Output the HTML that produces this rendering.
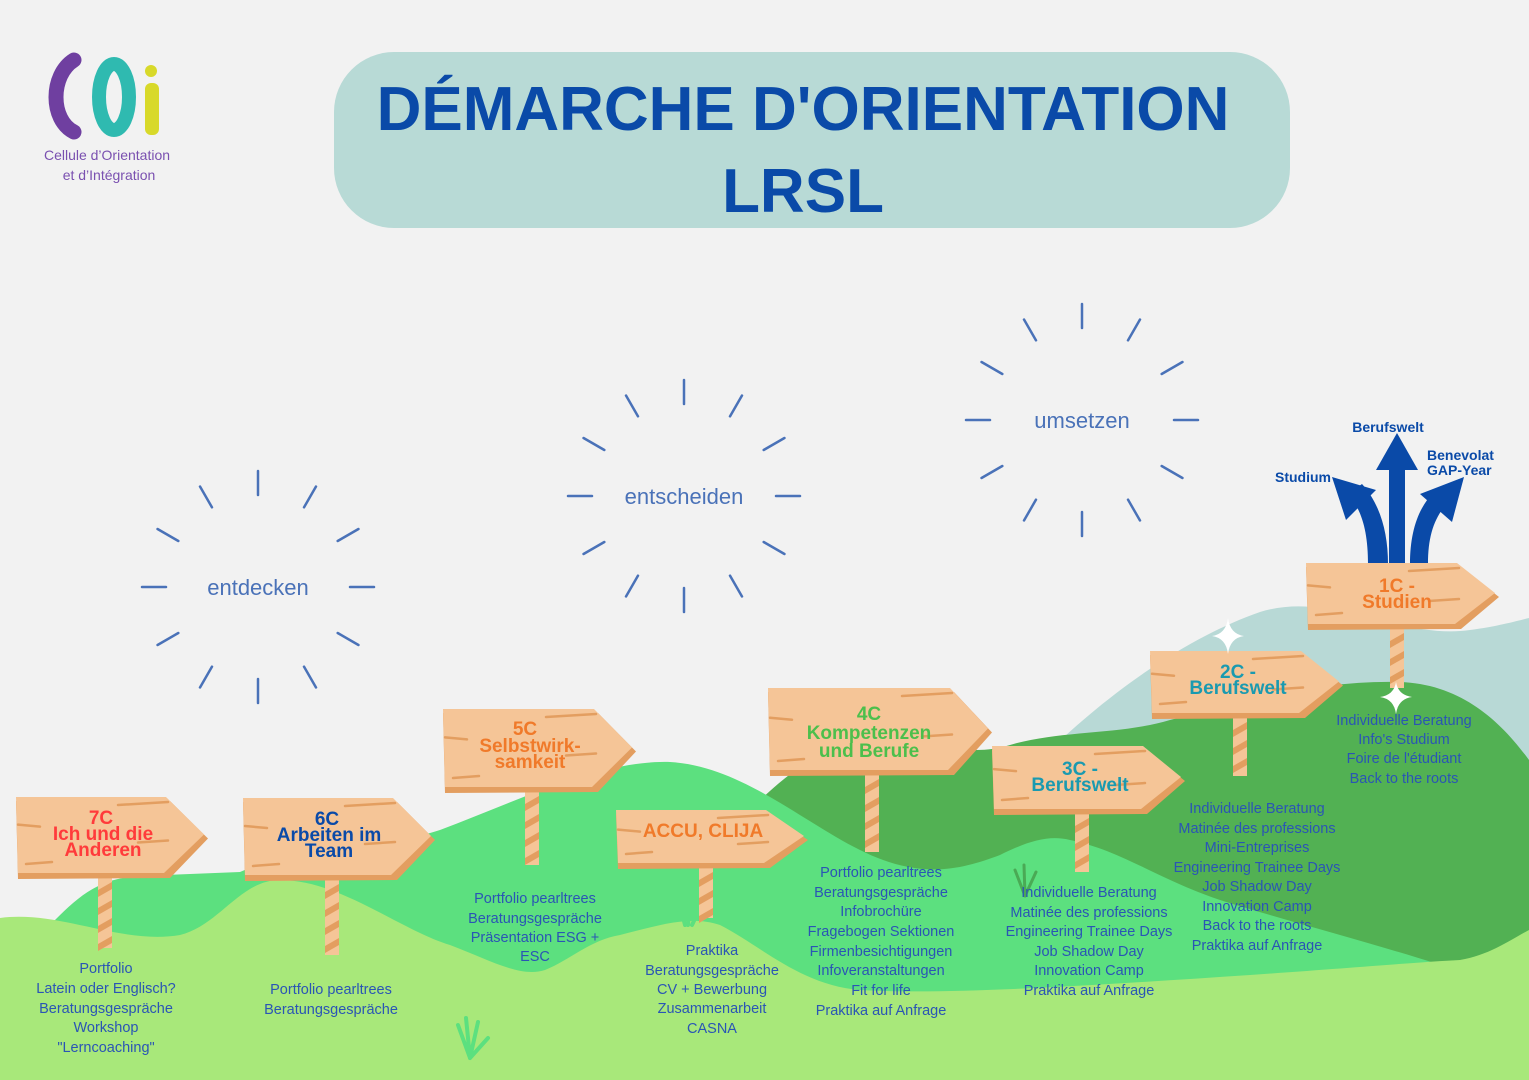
<!DOCTYPE html>
<html><head><meta charset="utf-8"><style>
html,body{margin:0;padding:0;background:#f2f2f2;}
svg{display:block;}
.t{font-family:"Liberation Sans",sans-serif;}
.lst{font-family:"Liberation Sans",sans-serif;font-size:14.5px;fill:#2a55b5;text-anchor:middle;}
.sg{font-family:"Liberation Sans",sans-serif;font-weight:bold;font-size:19px;text-anchor:middle;}
.ray{stroke:#4a72b8;stroke-width:2.5;stroke-linecap:round;}
.sb{font-family:"Liberation Sans",sans-serif;font-size:22px;fill:#4a72b8;text-anchor:middle;}
</style></head><body>
<svg width="1529" height="1080" viewBox="0 0 1529 1080" xmlns="http://www.w3.org/2000/svg">
<rect width="1529" height="1080" fill="#f2f2f2"/>
<path d="M74,60 C50,75 50,120 74,132" stroke="#6f3fa0" stroke-width="15" fill="none" stroke-linecap="round"/>
<ellipse cx="114" cy="97" rx="15" ry="33" stroke="#2fbab0" stroke-width="14" fill="none"/>
<rect x="145" y="83" width="14" height="52" rx="6" fill="#d8d92a"/>
<circle cx="151" cy="71" r="6" fill="#d8d92a"/>
<text class="t" x="107" y="160" font-size="14" fill="#7a50b0" text-anchor="middle">Cellule d’Orientation</text>
<text class="t" x="109" y="180" font-size="14" fill="#7a50b0" text-anchor="middle">et d’Intégration</text>
<rect x="334" y="52" width="956" height="176" rx="60" fill="#b8dad6"/>
<text class="t" x="803" y="130" font-size="62" font-weight="bold" fill="#0a4aa8" text-anchor="middle">DÉMARCHE D'ORIENTATION</text>
<text class="t" x="803" y="212" font-size="62" font-weight="bold" fill="#0a4aa8" text-anchor="middle">LRSL</text>
<g id="rays"></g>
<text class="sb" x="258" y="595">entdecken</text>
<text class="sb" x="684" y="504">entscheiden</text>
<text class="sb" x="1082" y="428">umsetzen</text>
<path d="M1040,760 C1100,700 1180,640 1260,612 C1330,590 1400,640 1470,630 C1500,626 1520,620 1529,618 L1529,900 L1040,900 Z" fill="#b8d9d6"/>
<path d="M750,810 C790,770 830,740 880,738 C930,736 960,760 1010,745 C1060,730 1120,735 1170,720 C1250,700 1320,680 1400,682 C1460,684 1500,720 1529,760 L1529,980 L750,980 Z" fill="#52b153"/>
<path d="M0,925 L55,920 C80,895 100,878 140,876 L240,872 C300,845 380,850 440,830 C520,800 600,760 670,762 C740,766 800,820 860,850 C920,880 960,870 1000,855 C1030,840 1050,835 1070,840 C1120,850 1160,880 1220,900 C1300,925 1400,950 1470,975 L1470,1080 L0,1080 Z" fill="#5ce07f"/>
<path d="M0,918 C60,910 120,945 180,935 C220,925 240,880 280,880 C340,880 400,930 450,945 C490,960 520,978 545,970 C570,960 590,940 620,935 C660,925 690,915 720,925 C760,945 800,985 860,990 C950,995 1100,985 1250,975 C1350,968 1420,962 1460,960 C1490,955 1510,940 1529,930 L1529,1080 L0,1080 Z" fill="#a8e87a"/>
<g stroke="#5ce07f" stroke-width="4" fill="none" stroke-linecap="round">
<path d="M470,1058 L458,1025 M470,1058 L466,1018 M470,1058 L478,1022 M470,1058 L488,1038"/>
<path d="M685,925 L680,905 M688,925 L690,900 M692,925 L700,908"/>
</g>
<g stroke="#4aaa55" stroke-width="3" fill="none" stroke-linecap="round">
<path d="M1025,896 L1015,870 M1025,896 L1024,865 M1025,896 L1036,872"/>
</g>
<g fill="#0a4aa8">
<rect x="1389" y="468" width="16" height="96"/>
<polygon points="1376,470 1397,433 1418,470"/>
<path d="M1368,564 C1368,532 1362,510 1348,494 L1362,484 C1380,504 1388,532 1388,564 Z"/>
<polygon points="1332,477 1376,490 1346,520"/>
<path d="M1410,564 C1410,532 1418,508 1434,492 L1448,502 C1434,518 1428,536 1428,564 Z"/>
<polygon points="1464,477 1452,522 1420,494"/>
</g>
<text class="t" x="1388" y="432" font-size="14" font-weight="bold" fill="#0a4aa8" text-anchor="middle">Berufswelt</text>
<text class="t" x="1331" y="482" font-size="14" font-weight="bold" fill="#0a4aa8" text-anchor="end">Studium</text>
<text class="t" x="1427" y="460" font-size="14" font-weight="bold" fill="#0a4aa8">Benevolat</text>
<text class="t" x="1427" y="475" font-size="14" font-weight="bold" fill="#0a4aa8">GAP-Year</text>
<g id="signs"></g>
<path d="M1228,618 Q1230,634 1244,636 Q1230,638 1228,654 Q1226,638 1212,636 Q1226,634 1228,618Z" fill="#fff"/>
<path d="M1396,682 Q1398,695 1412,697 Q1398,699 1396,714 Q1394,699 1380,697 Q1394,695 1396,682Z" fill="#fff"/>
<text class="sg" fill="#ff3b3b"><tspan x="101" y="824">7C</tspan><tspan x="103" y="840">Ich und die</tspan><tspan x="103" y="856">Anderen</tspan></text>
<text class="sg" fill="#0a4aa8"><tspan x="327" y="825">6C</tspan><tspan x="329" y="841">Arbeiten im</tspan><tspan x="329" y="857">Team</tspan></text>
<text class="sg" fill="#f07a2a"><tspan x="525" y="735">5C</tspan><tspan x="530" y="752">Selbstwirk-</tspan><tspan x="530" y="768">samkeit</tspan></text>
<text class="sg" fill="#f07a2a"><tspan x="703" y="837">ACCU, CLIJA</tspan></text>
<text class="sg" fill="#4cbf4c" font-size="21"><tspan x="869" y="720">4C</tspan><tspan x="869" y="739">Kompetenzen</tspan><tspan x="869" y="757">und Berufe</tspan></text>
<text class="sg" fill="#1a9ab0"><tspan x="1080" y="775">3C -</tspan><tspan x="1080" y="791">Berufswelt</tspan></text>
<text class="sg" fill="#1a9ab0"><tspan x="1238" y="678">2C -</tspan><tspan x="1238" y="694">Berufswelt</tspan></text>
<text class="sg" fill="#f07a2a"><tspan x="1397" y="592">1C -</tspan><tspan x="1397" y="608">Studien</tspan></text>
<text class="lst"><tspan x="106" y="973">Portfolio</tspan><tspan x="106" y="993">Latein oder Englisch?</tspan><tspan x="106" y="1013">Beratungsgespräche</tspan><tspan x="106" y="1032">Workshop</tspan><tspan x="106" y="1052">"Lerncoaching"</tspan></text>
<text class="lst"><tspan x="331" y="994">Portfolio pearltrees</tspan><tspan x="331" y="1014">Beratungsgespräche</tspan></text>
<text class="lst"><tspan x="535" y="903">Portfolio pearltrees</tspan><tspan x="535" y="923">Beratungsgespräche</tspan><tspan x="535" y="942">Präsentation ESG +</tspan><tspan x="535" y="961">ESC</tspan></text>
<text class="lst"><tspan x="712" y="955">Praktika</tspan><tspan x="712" y="975">Beratungsgespräche</tspan><tspan x="712" y="994">CV + Bewerbung</tspan><tspan x="712" y="1013">Zusammenarbeit</tspan><tspan x="712" y="1033">CASNA</tspan></text>
<text class="lst"><tspan x="881" y="877">Portfolio pearltrees</tspan><tspan x="881" y="897">Beratungsgespräche</tspan><tspan x="881" y="916">Infobrochüre</tspan><tspan x="881" y="936">Fragebogen Sektionen</tspan><tspan x="881" y="956">Firmenbesichtigungen</tspan><tspan x="881" y="975">Infoveranstaltungen</tspan><tspan x="881" y="995">Fit for life</tspan><tspan x="881" y="1015">Praktika auf Anfrage</tspan></text>
<text class="lst"><tspan x="1089" y="897">Individuelle Beratung</tspan><tspan x="1089" y="917">Matinée des professions</tspan><tspan x="1089" y="936">Engineering Trainee Days</tspan><tspan x="1089" y="956">Job Shadow Day</tspan><tspan x="1089" y="975">Innovation Camp</tspan><tspan x="1089" y="995">Praktika auf Anfrage</tspan></text>
<text class="lst"><tspan x="1257" y="813">Individuelle Beratung</tspan><tspan x="1257" y="833">Matinée des professions</tspan><tspan x="1257" y="852">Mini-Entreprises</tspan><tspan x="1257" y="872">Engineering Trainee Days</tspan><tspan x="1257" y="891">Job Shadow Day</tspan><tspan x="1257" y="911">Innovation Camp</tspan><tspan x="1257" y="930">Back to the roots</tspan><tspan x="1257" y="950">Praktika auf Anfrage</tspan></text>
<text class="lst"><tspan x="1404" y="725">Individuelle Beratung</tspan><tspan x="1404" y="744">Info's Studium</tspan><tspan x="1404" y="763">Foire de l'étudiant</tspan><tspan x="1404" y="783">Back to the roots</tspan></text>
</svg>
<script>
var NS="http://www.w3.org/2000/svg";
function el(p,t,a){var e=document.createElementNS(NS,t);for(var k in a)e.setAttribute(k,a[k]);p.appendChild(e);return e;}
var r=document.getElementById('rays');
[[258,587],[684,496],[1082,420]].forEach(function(c){
 for(var i=0;i<12;i++){var a=i*Math.PI/6;var c1=Math.cos(a),s1=Math.sin(a);
 el(r,'line',{x1:c[0]+c1*92,y1:c[1]+s1*92,x2:c[0]+c1*116,y2:c[1]+s1*116,'class':'ray'});}
});
var g=document.getElementById('signs');
[[16,797,208,876,105,948],[243,798,435,878,332,955],[443,709,636,790,532,865],[616,810,808,866,706,918],[768,688,992,773,872,852],[992,746,1185,812,1082,872],[1150,651,1343,716,1240,776],[1306,563,1499,627,1397,688]].forEach(function(s){
 var x1=s[0],y1=s[1],x2=s[2],y2=s[3],px=s[4],pb=s[5],h=y2-y1,m=y1+h/2;
 el(g,'rect',{x:px-7,y:y2-4,width:14,height:pb-y2+4,fill:'#f5c597'});
 for(var y=y2+6;y<pb-4;y+=18){el(g,'polygon',{points:(px-7)+','+(y+8)+' '+(px+7)+','+y+' '+(px+7)+','+(y+7)+' '+(px-7)+','+(y+15),fill:'#e39e60'});}
 el(g,'polygon',{points:x1+','+(y1+4)+' '+(x2-38)+','+(y1+4)+' '+(x2)+','+(m+2)+' '+(x2-38)+','+(y2+2)+' '+(x1+2)+','+(y2+3),fill:'#e39e60'});
 el(g,'polygon',{points:x1+','+y1+' '+(x2-42)+','+y1+' '+(x2-4)+','+(m-2)+' '+(x2-44)+','+(y2-3)+' '+(x1+2)+','+(y2-3),fill:'#f5c597'});
 el(g,'path',{d:'M'+(x1+2)+','+(y1+h*0.35)+' l22,2 M'+(x2-90)+','+(y1+8)+' l50,-3 M'+(x1+10)+','+(y2-12)+' l26,-2 M'+(x2-70)+','+(m+6)+' l30,-2',stroke:'#e39e60','stroke-width':2.5,'stroke-linecap':'round'});
});
</script>
</body></html>
